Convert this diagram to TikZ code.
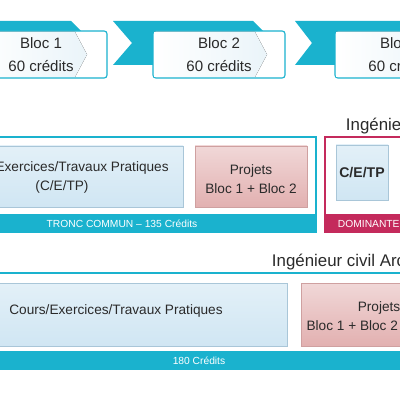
\documentclass[tikz,border=0pt]{standalone}
\usepackage{fontspec}
\setmainfont{Liberation Sans}
\usetikzlibrary{shadows}

\definecolor{tealband}{HTML}{1AB2CE}
\definecolor{crimson}{HTML}{C42A5C}
\definecolor{txt}{HTML}{2A2A2A}
\definecolor{paleblue}{HTML}{EAF4F9}
\definecolor{cetp}{HTML}{D0E6F3}
\definecolor{cetpedge}{HTML}{A9C6D8}
\definecolor{proj}{HTML}{E2B0B0}
\definecolor{projedge}{HTML}{CFA0A0}

\begin{document}
\begin{tikzpicture}[
  x=0.025cm, y=-0.025cm,
  every node/.style={text=txt, align=center},
  ribbon/.style={fill=tealband},
  blocbox/.style={draw=tealband, line width=0.8pt, rounded corners=2pt, fill=white},
  blocarrow/.style={left color=white, right color=paleblue},
  bloctext/.style={font=\fontsize{10.7}{16.4}\selectfont},
  frame/.style={line width=1.3pt},
  band/.style={fill=tealband},
  bandtext/.style={font=\fontsize{7.3}{9}\selectfont, text=white},
  cours/.style={draw=cetpedge, line width=0.5pt, top color=cetp!60, bottom color=cetp,
    drop shadow={opacity=0.15, shadow xshift=0.7pt, shadow yshift=-0.7pt}},
  projet/.style={draw=projedge, line width=0.5pt, top color=proj!50, bottom color=proj,
    drop shadow={opacity=0.15, shadow xshift=0.7pt, shadow yshift=-0.7pt}},
  boxtext/.style={font=\fontsize{9.7}{13.5}\selectfont},
  heading/.style={font=\fontsize{12}{14}\selectfont, anchor=west}
]
\useasboundingbox (0,0) rectangle (400,400);
\clip (0,0) rectangle (400,400);

% blocs
\fill[ribbon] (-20,21) -- (71,21) -- (85,35) -- (85,65) -- (-20,65) -- cycle;
\fill[ribbon] (113,21) -- (253,21) -- (267,35) -- (267,65) -- (113,65) -- (132,43) -- cycle;
\fill[ribbon] (295,21) -- (440,21) -- (440,65) -- (295,65) -- (312,43) -- cycle;

\draw[blocbox] (-25,31) rectangle (107,78);
\fill[blocarrow] (-24,32) -- (75,32) -- (87,54.5) -- (75,77) -- (-24,77) -- cycle;
\node[bloctext] (bloc1) at (41,54.5) {Bloc 1\\60 crédits};

\draw[blocbox] (153,31) rectangle (285,78);
\fill[blocarrow] (154,32) -- (255,32) -- (267,54.5) -- (255,77) -- (154,77) -- cycle;
\node[bloctext] (bloc2) at (219,54.5) {Bloc 2\\60 crédits};

\draw[blocbox] (335,31) rectangle (467,78);
\fill[blocarrow] (336,32) -- (437,32) -- (449,54.5) -- (437,77) -- (336,77) -- cycle;
\node[bloctext] (bloc3) at (401,54.5) {Bloc 3\\60 crédits};

% tronc commun
\draw[frame, draw=tealband] (-10,137) rectangle (316,232);
\fill[band] (-10,214) rectangle (316,232);
\node[bandtext] (tronc) at (122,223.5) {TRONC COMMUN -- 135 Crédits};
\draw[cours] (-60,146) rectangle (183,207);
\node[boxtext] (coursTC) at (62,177.5) {Cours/Exercices/Travaux Pratiques\\(C/E/TP)};
\draw[projet] (195,146) rectangle (307,207);
\node[boxtext] (projTC) at (251,179) {Projets\\Bloc 1 + Bloc 2};

% dominantes
\node[heading] (ingDom) at (341,126) {Ingénieur civil};
\draw[frame, draw=crimson] (325,137) rectangle (420,232);
\fill[crimson] (325,214) rectangle (420,232);
\node[bandtext, anchor=west] (dom) at (333,223.5) {DOMINANTES};
\draw[cours] (336,145) rectangle (388,200);
\node[boxtext, font=\fontsize{10}{12}\selectfont\bfseries] (cetpDom) at (362,173) {C/E/TP};

% ingenieur civil architecte
\node[heading] (ingArch) at (267,262) {Ingénieur civil Architecte};
\draw[frame, draw=tealband] (-10,273) rectangle (420,369);
\fill[band] (-10,351) rectangle (420,369);
\node[bandtext] (total) at (199,361) {180 Crédits};
\draw[cours] (-5,283) rectangle (287,346);
\node[boxtext] (coursArch) at (116,311) {Cours/Exercices/Travaux Pratiques};
\draw[projet] (301,283) rectangle (460,346);
\node[boxtext] (projArch) at (379,316) {Projets\\Bloc 1 + Bloc 2 + Bloc 3};
\end{tikzpicture}
\end{document}
